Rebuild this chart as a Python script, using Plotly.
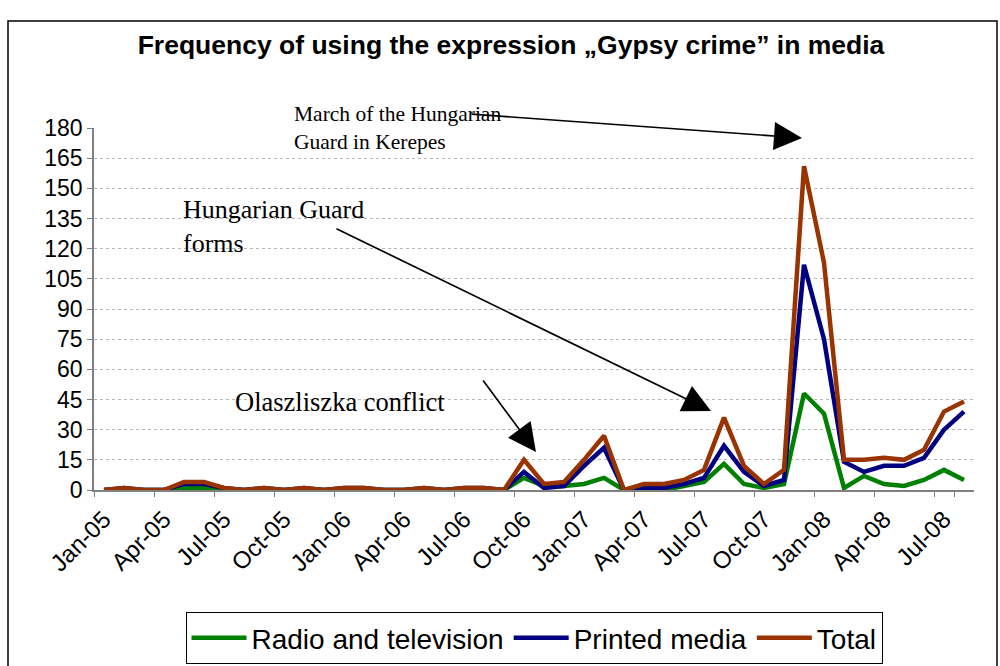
import plotly.graph_objects as go

months = [
    "Jan-05", "Feb-05", "Mar-05", "Apr-05", "May-05", "Jun-05", "Jul-05", "Aug-05", "Sep-05", "Oct-05", "Nov-05", "Dec-05",
    "Jan-06", "Feb-06", "Mar-06", "Apr-06", "May-06", "Jun-06", "Jul-06", "Aug-06", "Sep-06", "Oct-06", "Nov-06", "Dec-06",
    "Jan-07", "Feb-07", "Mar-07", "Apr-07", "May-07", "Jun-07", "Jul-07", "Aug-07", "Sep-07", "Oct-07", "Nov-07", "Dec-07",
    "Jan-08", "Feb-08", "Mar-08", "Apr-08", "May-08", "Jun-08", "Jul-08", "Aug-08",
]
tick_labels = months[::3]

radio_tv = [0, 0, 0, 0, 1, 1, 0, 0, 0, 0, 0, 0,
            0, 0, 0, 0, 0, 0, 0, 0, 0, 6, 2, 2,
            3, 6, 0, 1, 0, 2, 4, 13, 3, 1, 3, 48,
            38, 1, 7, 3, 2, 5, 10, 5]
printed = [0, 1, 0, 0, 3, 3, 1, 0, 1, 0, 1, 0,
           1, 1, 0, 0, 1, 0, 1, 1, 0, 9, 1, 2,
           12, 21, 0, 1, 1, 3, 6, 22, 9, 2, 5, 112,
           75, 14, 9, 12, 12, 16, 30, 39]
total = [0, 1, 0, 0, 4, 4, 1, 0, 1, 0, 1, 0,
         1, 1, 0, 0, 1, 0, 1, 1, 0, 15, 3, 4,
         15, 27, 0, 3, 3, 5, 10, 36, 12, 3, 10, 161,
         113, 15, 15, 16, 15, 20, 39, 44]

series = [
    ("Radio and television", radio_tv, "#008000"),
    ("Printed media", printed, "#000080"),
    ("Total", total, "#993300"),
]

# plot area in pixels
L, R, T, B = 94, 974, 128, 490
W, H = 1000, 666


def px(x):
    return (x - L) / (R - L)


def py(y):
    return (B - y) / (B - T)


fig = go.Figure()
for name, vals, color in series:
    fig.add_trace(go.Scatter(x=months, y=vals, mode="lines", name=name,
                             line=dict(color=color, width=4.5)))

serif = "Liberation Serif, Times New Roman, serif"
sans = "Liberation Sans, Arial, sans-serif"

annotations = [
    dict(text="March of the Hungarian<br>Guard in Kerepes", x=px(292), y=py(100),
         xanchor="left", yanchor="top", align="left", font=dict(family=serif, size=21.5, color="black")),
    dict(text="Hungarian Guard<br>forms", x=px(181), y=py(193),
         xanchor="left", yanchor="top", align="left", font=dict(family=serif, size=26, color="black")),
    dict(text="Olaszliszka conflict", x=px(233), y=py(402),
         xanchor="left", yanchor="middle", align="left", font=dict(family=serif, size=26.5, color="black")),
]
arrows = [
    ((470, 114), (802, 138)),
    ((335, 228), (711, 411)),
    ((482, 379), (536, 452)),
]
for (sx, sy), (tx, ty) in arrows:
    annotations.append(dict(text="", x=px(tx), y=py(ty), ax=sx - tx, ay=sy - ty,
                            showarrow=True, arrowhead=2, arrowsize=3.3, arrowwidth=1.7,
                            arrowcolor="black"))
for a in annotations:
    a.setdefault("xref", "paper")
    a.setdefault("yref", "paper")
    a.setdefault("showarrow", False)

fig.update_layout(
    width=W, height=H,
    margin=dict(l=L, r=W - R, t=T, b=H - B, autoexpand=False),
    paper_bgcolor="white", plot_bgcolor="white",
    font=dict(family=sans, color="black"),
    title=dict(text="<b>Frequency of using the expression „Gypsy crime” in media</b>",
               x=px(511), xref="paper", xanchor="center",
               y=1 - 45 / H, yref="container", yanchor="middle",
               font=dict(family=sans, size=26.5, color="black")),
    showlegend=True,
    legend=dict(orientation="h", x=px(534), xanchor="center", y=py(612), yanchor="top",
                bordercolor="black", borderwidth=1, bgcolor="white",
                itemwidth=55, tracegroupgap=0,
                font=dict(family=sans, size=28, color="black")),
    annotations=annotations,
    shapes=[dict(type="rect", xref="paper", yref="paper",
                 x0=px(8), x1=px(997), y0=py(690), y1=py(21),
                 line=dict(color="black", width=1.5), layer="below")],
)
fig.update_xaxes(type="category", range=[-0.5, len(months) - 0.5], automargin=False,
                 tickmode="array", tickvals=tick_labels, ticktext=tick_labels,
                 tickson="boundaries", ticks="outside", ticklen=5, tickcolor="#808080",
                 tickangle=-45, tickfont=dict(family=sans, size=24), ticklabelstandoff=4,
                 showline=True, linecolor="#808080", linewidth=1.5,
                 showgrid=False, zeroline=False)
fig.update_yaxes(range=[0, 180], dtick=15, tick0=0, automargin=False,
                 ticks="outside", ticklen=5, tickcolor="#808080",
                 tickfont=dict(family=sans, size=23),
                 showline=True, linecolor="#808080", linewidth=1.5,
                 showgrid=True, gridcolor="#b8b8b8", griddash="dot", gridwidth=1,
                 zeroline=False)

fig.write_html("out.html", config={"displayModeBar": False},
               post_script="document.body.style.margin='0';")
